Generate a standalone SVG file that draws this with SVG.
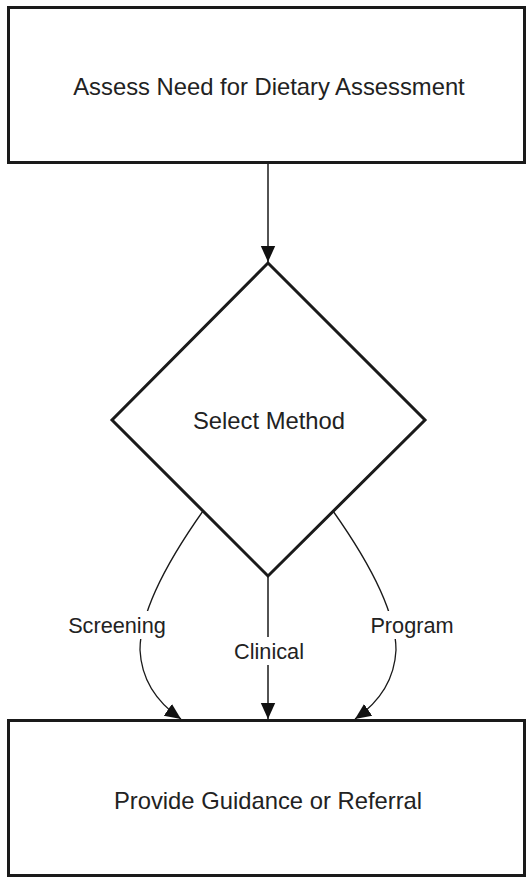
<svg xmlns="http://www.w3.org/2000/svg" width="526" height="878" viewBox="0 0 526 878">
<style>
.node{fill:#fff;stroke:#1a1a1a;stroke-width:3}
.t{font-family:"Liberation Sans",Arial,sans-serif;font-size:23.8px;fill:#222;text-anchor:middle;dominant-baseline:central}
.lbl{font-family:"Liberation Sans",Arial,sans-serif;font-size:21.7px;fill:#222;text-anchor:middle;dominant-baseline:central}
.e{fill:none;stroke:#1a1a1a;stroke-width:1.5}
.c{fill:none;stroke:#1a1a1a;stroke-width:1.3}
.bg{fill:#fff}
</style>
<defs>
<marker id="ah2" viewBox="0 0 10 10" refX="10" refY="5" markerWidth="16" markerHeight="16" markerUnits="userSpaceOnUse" orient="auto">
<path d="M0,0.5 L10,5 L0,9.5 Z" fill="#111"/>
</marker>
</defs>
<g id="n-assess">
<rect class="node" x="8.5" y="7.5" width="516" height="155"/>
<text class="t" x="269" y="86">Assess Need for Dietary Assessment</text>
</g>
<g id="n-select">
<polygon class="node" points="268,263 425,420 268,576 112,420"/>
<text class="t" x="269" y="420">Select Method</text>
</g>
<g id="n-provide">
<rect class="node" x="8.5" y="720.5" width="516" height="155"/>
<text class="t" x="268" y="800">Provide Guidance or Referral</text>
</g>
<g id="connectors">
<line class="e" x1="268" y1="164" x2="268" y2="262" marker-end="url(#ah2)"/>
<line class="e" x1="268" y1="577" x2="268" y2="719" marker-end="url(#ah2)"/>
<path class="c" d="M203,511 Q140,600 140,650 Q142,692 181,719" marker-end="url(#ah2)"/>
<path class="c" d="M333,511 Q396,600 396,650 Q394,692 355,719" marker-end="url(#ah2)"/>
<rect class="bg" x="66" y="611" width="102" height="28"/>
<text class="lbl" x="117" y="625">Screening</text>
<rect class="bg" x="232" y="637" width="74" height="28"/>
<text class="lbl" x="269" y="651">Clinical</text>
<rect class="bg" x="368" y="611" width="88" height="28"/>
<text class="lbl" x="412" y="625">Program</text>
</g>
</svg>
